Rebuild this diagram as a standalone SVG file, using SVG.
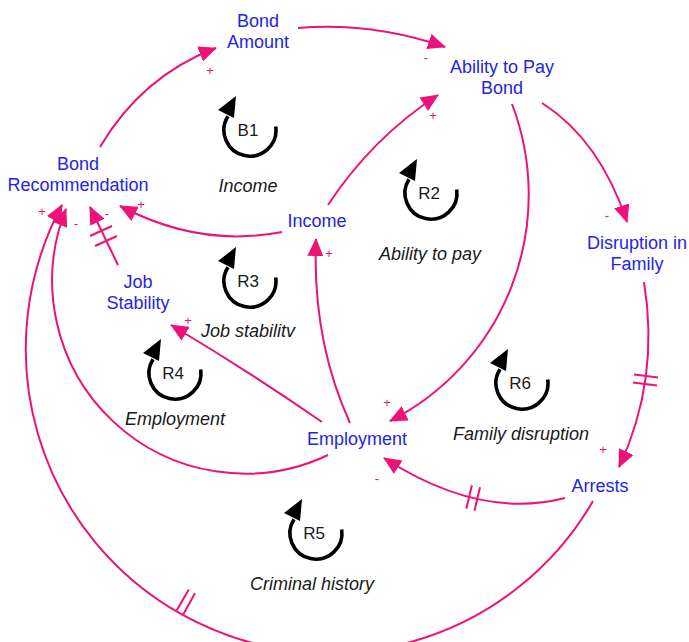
<svg xmlns="http://www.w3.org/2000/svg" xmlns:xlink="http://www.w3.org/1999/xlink" width="689" height="642" viewBox="0 0 689 642">
<style>
.node{font-family:"Liberation Sans",Arial,sans-serif;font-size:18px;fill:#2424e6;text-anchor:middle}
.lid{font-family:"Liberation Sans",Arial,sans-serif;font-size:17px;fill:#1a1a1a;text-anchor:middle}
.lname{font-family:"Liberation Sans",Arial,sans-serif;font-size:18px;font-style:italic;fill:#1a1a1a;text-anchor:middle}
.pol{font-family:"Liberation Sans",Arial,sans-serif;font-size:13px;fill:#ee1177;text-anchor:middle;dominant-baseline:central}
.con{fill:none;stroke:#ee1177;stroke-width:2;marker-end:url(#ah)}
.hash{stroke:#ee1177;stroke-width:2;fill:none}
</style>
<defs>
<marker id="ah" viewBox="0 0 18 16" refX="17" refY="8" markerWidth="18" markerHeight="16" markerUnits="userSpaceOnUse" orient="auto"><path d="M0,0 L18,8 L0,16 z" fill="#ee1177"/></marker>
<g id="loop"><path d="M25.7,-3.6 A26,26 0 1 1 -22,-13.8" fill="none" stroke="#000" stroke-width="3.6"/><polygon points="-32,-20 -14,-34 -16,-12" fill="#000"/></g>
</defs>
<rect width="689" height="642" fill="#fff"/>
<g id="connectors">
<path class="con" d="M100,147 Q142,76 216,48"/>
<path class="con" d="M298,28 Q372,22 445,47"/>
<path class="con" d="M328,205 Q372,138 438,95"/>
<path class="con" d="M282,232 Q200,248 120,206"/>
<path class="con" d="M118,265 L90,207"/>
<path class="con" d="M322,422 Q250,372 171,325"/>
<path class="con" d="M350,423 Q312,340 316,239"/>
<path class="con" d="M512,104 A254,254 0 0 1 390,421"/>
<path class="con" d="M542,103 Q600,140 627,222"/>
<path class="con" d="M644,282 Q660,380 619,467"/>
<path class="con" d="M565,498 Q480,520 384,458"/>
<path class="con" d="M328,455 A193,193 0 0 1 66,209"/>
<path class="con" d="M593,501 A304,304 0 0 1 62,205"/>
<path class="hash" d="M90,236 L112,226 M95,246 L117,236"/>
<path class="hash" d="M634,374.4 L658,377.6 M633,382.4 L657,385.6"/>
<path class="hash" d="M480,487.3 L474.5,510.7 M471.9,485.3 L466.3,508.7"/>
<path class="hash" d="M195,593.3 L183.3,614.2 M188.7,589.7 L176.6,610.4"/>
<text class="pol" x="210" y="70">+</text>
<text class="pol" x="426" y="57">-</text>
<text class="pol" x="433" y="115">+</text>
<text class="pol" x="607" y="215">-</text>
<text class="pol" x="603" y="449">+</text>
<text class="pol" x="387" y="402">+</text>
<text class="pol" x="377" y="478">-</text>
<text class="pol" x="329" y="253">+</text>
<text class="pol" x="188" y="320">+</text>
<text class="pol" x="141" y="204">+</text>
<text class="pol" x="107" y="213">-</text>
<text class="pol" x="42" y="211">+</text>
<text class="pol" x="76" y="223">-</text>
</g>
<g id="bond-amount"><text class="node" x="258" y="27">Bond<tspan x="258" y="48">Amount</tspan></text></g>
<g id="ability-to-pay-bond"><text class="node" x="502" y="73">Ability to Pay<tspan x="502" y="94">Bond</tspan></text></g>
<g id="bond-recommendation"><text class="node" x="78" y="170">Bond<tspan x="78" y="191">Recommendation</tspan></text></g>
<g id="income"><text class="node" x="317" y="227">Income</text></g>
<g id="job-stability"><text class="node" x="138" y="288">Job<tspan x="138" y="309">Stability</tspan></text></g>
<g id="disruption-in-family"><text class="node" x="637" y="249">Disruption in<tspan x="637" y="270">Family</tspan></text></g>
<g id="employment"><text class="node" x="357" y="445">Employment</text></g>
<g id="arrests"><text class="node" x="600" y="492">Arrests</text></g>
<g id="loop-B1"><use xlink:href="#loop" x="250" y="130"/><text class="lid" x="248" y="136">B1</text><text class="lname" x="248" y="192">Income</text></g>
<g id="loop-R2"><use xlink:href="#loop" x="431" y="193"/><text class="lid" x="429" y="199">R2</text><text class="lname" x="430" y="260">Ability to pay</text></g>
<g id="loop-R3"><use xlink:href="#loop" x="250" y="281"/><text class="lid" x="248" y="287">R3</text><text class="lname" x="248" y="337">Job stabilitv</text></g>
<g id="loop-R4"><use xlink:href="#loop" x="175" y="373"/><text class="lid" x="173" y="379">R4</text><text class="lname" x="175" y="425">Employment</text></g>
<g id="loop-R5"><use xlink:href="#loop" x="316" y="533"/><text class="lid" x="314" y="539">R5</text><text class="lname" x="312" y="590">Criminal history</text></g>
<g id="loop-R6"><use xlink:href="#loop" x="522" y="383"/><text class="lid" x="520" y="389">R6</text><text class="lname" x="521" y="440">Family disruption</text></g>
</svg>
